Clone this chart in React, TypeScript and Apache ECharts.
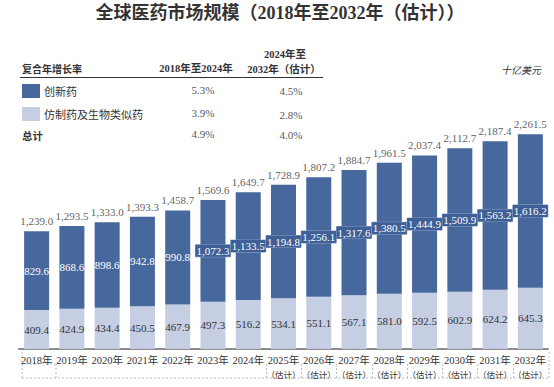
import React, { useEffect, useRef } from "react";
import * as echarts from "echarts";

const years = ["2018年","2019年","2020年","2021年","2022年","2023年","2024年","2025年","2026年","2027年","2028年","2029年","2030年","2031年","2032年"];
const estimated = [false,false,false,false,false,false,false,true,true,true,true,true,true,true,true];
const innovative = [829.6,868.6,898.6,942.8,990.8,1072.3,1133.5,1194.8,1256.1,1317.6,1380.5,1444.9,1509.9,1563.2,1616.2];
const generic = [409.4,424.9,434.4,450.5,467.9,497.3,516.2,534.1,551.1,567.1,581.0,592.5,602.9,624.2,645.3];
const totals = [1239.0,1293.5,1333.0,1393.3,1458.7,1569.6,1649.7,1728.9,1807.2,1884.7,1961.5,2037.4,2112.7,2187.4,2261.5];

const cagrRows = ["创新药","仿制药及生物类似药","总计"];
const cagr1 = ["5.3%","3.9%","4.9%"];
const cagr2 = ["4.5%","2.8%","4.0%"];

const DARK = "#47689c";
const LIGHT = "#c5cee3";
const SERIF = "'Liberation Serif', 'Noto Sans CJK SC', serif";
const SANS = "'Noto Sans CJK SC', 'Noto Sans', sans-serif";

const fmt = (v: number) => v.toLocaleString("en-US", { minimumFractionDigits: 1, maximumFractionDigits: 1 });

export default function App() {
  const ref = useRef<HTMLDivElement>(null);
  useEffect(() => {
    if (!ref.current) return;
    const chart = echarts.init(ref.current, undefined, { renderer: "svg" });
    const gridLeft = 19, gridRight = 548;
    const cw = (gridRight - gridLeft) / years.length;
    const dash = { stroke: "#bdbdbd", lineWidth: 1, lineDash: [2, 2] };
    const graphics: any[] = [];
    // title
    graphics.push({ type: "text", x: 280, y: 13, style: { text: "全球医药市场规模（2018年至2032年（估计））", font: `bold 18px ${SERIF}`, fill: "#333", align: "center", verticalAlign: "middle" } });
    // table header
    graphics.push({ type: "text", x: 22, y: 68, style: { text: "复合年增长率", font: `bold 10px ${SANS}`, fill: "#333", align: "left", verticalAlign: "middle" } });
    graphics.push({ type: "text", x: 196, y: 68, style: { text: "2018年至2024年", font: `bold 10.5px ${SERIF}`, fill: "#333", align: "center", verticalAlign: "middle" } });
    graphics.push({ type: "text", x: 285, y: 54, style: { text: "2024年至", font: `bold 10.5px ${SERIF}`, fill: "#333", align: "center", verticalAlign: "middle" } });
    graphics.push({ type: "text", x: 284, y: 69, style: { text: "2032年（估计）", font: `bold 10.5px ${SERIF}`, fill: "#333", align: "center", verticalAlign: "middle" } });
    graphics.push({ type: "line", shape: { x1: 20, y1: 77.5, x2: 323, y2: 77.5 }, style: { stroke: "#333", lineWidth: 1 } });
    graphics.push({ type: "text", x: 521, y: 69, style: { text: "十亿美元", font: `italic 10px ${SANS}`, fill: "#333", align: "center", verticalAlign: "middle" } });
    const rowY = [91, 114, 135];
    const swatch = [DARK, LIGHT];
    cagrRows.forEach((name, i) => {
      if (i < 2) {
        graphics.push({ type: "rect", shape: { x: 22, y: rowY[i] - 7, width: 18, height: 14 }, style: { fill: swatch[i] } });
        graphics.push({ type: "text", x: 44, y: rowY[i], style: { text: name, font: `11px ${SANS}`, fill: "#333", align: "left", verticalAlign: "middle" } });
      } else {
        graphics.push({ type: "text", x: 22, y: rowY[i], style: { text: name, font: `bold 10.5px ${SANS}`, fill: "#333", align: "left", verticalAlign: "middle" } });
      }
      graphics.push({ type: "text", x: 203, y: rowY[i] - 1, style: { text: cagr1[i], font: `11px ${SERIF}`, fill: "#555", align: "center", verticalAlign: "middle" } });
      graphics.push({ type: "text", x: 291, y: rowY[i] + (i === 1 ? 1 : 0), style: { text: cagr2[i], font: `11px ${SERIF}`, fill: "#555", align: "center", verticalAlign: "middle" } });
    });
    // dashed label boxes
    graphics.push({ type: "line", shape: { x1: 22, y1: 378, x2: 549, y2: 378 }, style: dash });
    graphics.push({ type: "line", shape: { x1: 22, y1: 352, x2: 22, y2: 378 }, style: dash });
    graphics.push({ type: "line", shape: { x1: 22, y1: 364, x2: 56, y2: 364 }, style: dash });
    graphics.push({ type: "line", shape: { x1: 56, y1: 364, x2: 56, y2: 378 }, style: dash });
    graphics.push({ type: "line", shape: { x1: 549, y1: 352, x2: 549, y2: 378 }, style: dash });
    for (let k = 7; k < years.length; k++) {
      const bx = Math.round(gridLeft + k * cw) + 0.5;
      graphics.push({ type: "line", shape: { x1: bx, y1: 364, x2: bx, y2: 378 }, style: dash });
    }

    const option: any = {
      animation: false,
      backgroundColor: "#fff",
      grid: { left: gridLeft, right: 554 - gridRight, top: 111.5, bottom: 38, containLabel: false },
      xAxis: {
        type: "category",
        data: years,
        axisLine: { lineStyle: { color: "#8c8c8c", width: 2 } },
        axisTick: { show: false },
        axisLabel: {
          interval: 0,
          margin: 4,
          color: "#333",
          fontSize: 10.5,
          fontFamily: SERIF,
          lineHeight: 14,
          formatter: (v: string, i: number) => (estimated[i] ? `${v}\n{e|（估计）}` : v),
          rich: { e: { fontSize: 8.5, fontFamily: SANS, color: "#333", lineHeight: 14 } },
        },
      },
      yAxis: { type: "value", min: 0, max: 2500, show: false, splitLine: { show: false } },
      series: [
        {
          name: "仿制药及生物类似药",
          type: "bar",
          stack: "t",
          barWidth: 25,
          data: generic,
          itemStyle: { color: LIGHT },
          label: { show: true, position: "inside", color: "#333", fontSize: 11, fontFamily: SERIF, formatter: (p: any) => fmt(p.value) },
        },
        {
          name: "创新药",
          type: "bar",
          stack: "t",
          barWidth: 25,
          data: innovative.map((v) => ({
            value: v,
            label: v >= 1000 ? { backgroundColor: "#3f6096", borderColor: "#8ea3c6", borderWidth: 0.5, padding: [1, 1, 0, 1] } : {},
          })),
          itemStyle: { color: DARK },
          label: { show: true, position: "inside", color: "#fff", fontSize: 11, fontFamily: SERIF, formatter: (p: any) => fmt(p.value) },
        },
        {
          name: "总计",
          type: "scatter",
          data: totals,
          symbolSize: 1,
          itemStyle: { color: "rgba(0,0,0,0)" },
          label: { show: true, position: "top", distance: 4, color: "#333", fontSize: 11, fontFamily: SERIF, formatter: (p: any) => fmt(p.value) },
          z: 5,
        },
      ],
      graphic: graphics,
    };
    chart.setOption(option);
    return () => chart.dispose();
  }, []);
  return <div ref={ref} style={{ position: "fixed", left: 0, top: 0, width: 554, height: 387 }} />;
}
